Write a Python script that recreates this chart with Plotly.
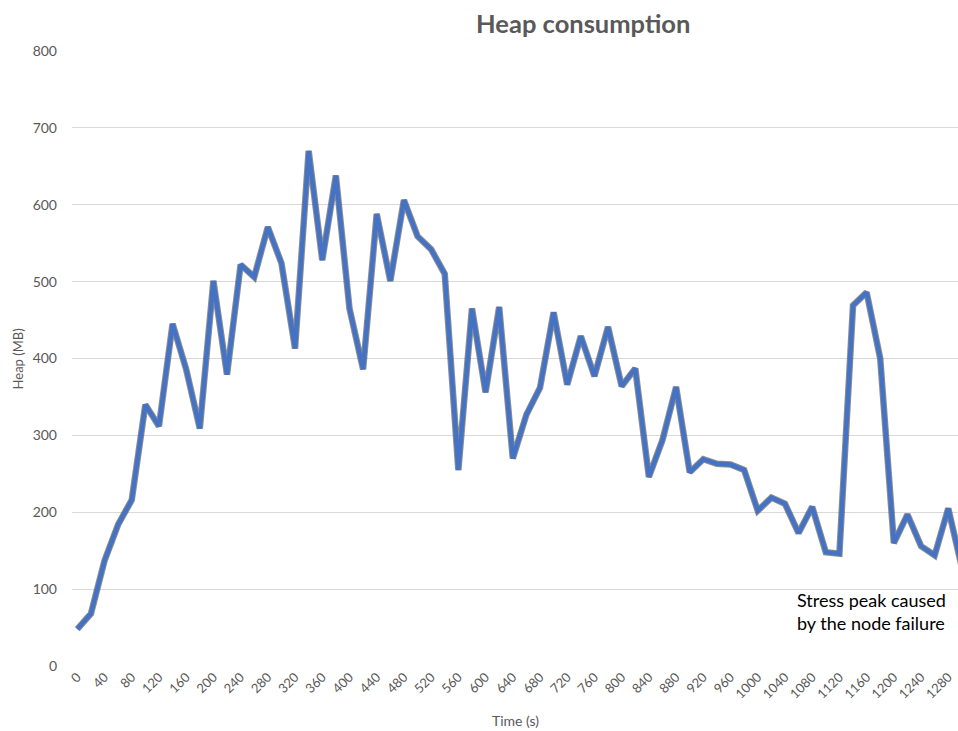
import plotly.graph_objects as go

time_s = list(range(0, 1301, 20))
heap_mb = [48, 68, 137, 184, 216, 340, 312, 445, 386, 309,
           501, 379, 522, 506, 571, 524, 413, 670, 528, 638,
           465, 386, 588, 501, 606, 559, 542, 510, 255, 465,
           356, 467, 270, 327, 362, 460, 366, 429, 377, 441,
           364, 387, 246, 294, 363, 252, 269, 263, 262, 255,
           202, 219, 211, 173, 207, 148, 146, 469, 486, 400,
           160, 197, 156, 144, 205, 128]
x_tick_vals = list(range(0, 1281, 40))
x_tick_text = [str(v) for v in x_tick_vals]
y_tick_vals = list(range(0, 801, 100))

FONT = "Lato, 'Open Sans', sans-serif"
GRAY = "#595959"

W, H = 958, 731

fig = go.Figure()
fig.add_trace(go.Scatter(x=time_s, y=heap_mb, mode="lines",
                         line=dict(color="rgba(50,50,50,0.55)", width=6.5),
                         hoverinfo="skip", showlegend=False))
fig.add_trace(go.Scatter(x=time_s, y=heap_mb, mode="lines",
                         line=dict(color="#4472C4", width=4.5),
                         showlegend=False))

fig.update_layout(
    width=W, height=H,
    margin=dict(l=72, r=0, t=51, b=65),
    paper_bgcolor="white", plot_bgcolor="white",
    font=dict(family=FONT, color=GRAY),
    title=dict(text="<b>Heap consumption</b>", x=0.577, xref="paper", xanchor="center",
               y=1 - 24 / H, yref="container", yanchor="middle",
               font=dict(size=25.5, color=GRAY, family=FONT)),
    xaxis=dict(range=[-7.8, 1294.3], tickmode="array", tickvals=x_tick_vals,
               ticktext=x_tick_text, tickangle=-45, showgrid=False,
               showline=False, zeroline=False, ticks="",
               tickfont=dict(size=13, color=GRAY, family=FONT)),
    yaxis=dict(range=[0, 800], tickmode="array", tickvals=y_tick_vals,
               showgrid=True, gridcolor="#D9D9D9", gridwidth=1,
               zeroline=False, showline=False, ticks="", ticklabelstandoff=14,
               tickfont=dict(size=14, color=GRAY, family=FONT)),
    annotations=[
        dict(text="Heap (MB)", xref="paper", yref="paper", x=-0.061, y=0.5,
             xanchor="center", yanchor="middle",
             textangle=-90, showarrow=False, font=dict(size=13, color=GRAY, family=FONT)),
        dict(text="Time (s)", xref="paper", yref="paper", x=0.5, y=-0.088,
             xanchor="center", yanchor="middle",
             showarrow=False, font=dict(size=14, color=GRAY, family=FONT)),
        dict(text="Stress peak caused<br>by the node failure", xref="paper", yref="paper",
             x=0.8155, y=0.088, xanchor="left", yanchor="middle", align="left",
             showarrow=False, font=dict(size=18, color="black", family=FONT)),
    ],
)
fig.write_html("out.html", config={"displayModeBar": False},
               post_script="document.body.style.margin='0';document.body.style.overflow='hidden';")
